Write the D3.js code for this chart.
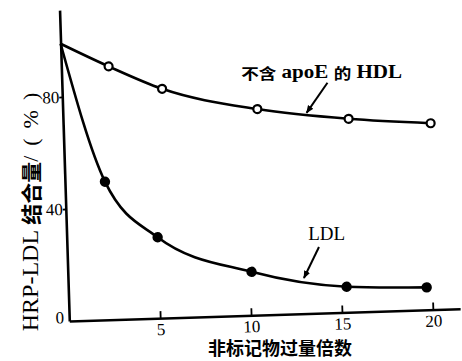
<!DOCTYPE html>
<html><head><meta charset="utf-8">
<script src="https://cdn.jsdelivr.net/npm/d3@7"></script>
<style>
html,body{margin:0;padding:0;background:#fff;}
svg{display:block;}
</style></head>
<body>
<svg id="chart" width="462" height="361"></svg>
<script>
// ---- data ----
const hdlX = [0, 2.6, 5.5, 10.7, 15.7, 20.2];
const hdlValues = [99, 90.4, 81.8, 73.5, 69.0, 66.5];
const ldlX = [0, 2.2, 5.0, 10.1, 15.3, 19.7];
const ldlValues = [99, 49.3, 28.9, 15.5, 9.1, 8.0];
const xTicks = [5, 10, 15, 20];
const yTicks = [0, 40, 80];
const xTitle = "非标记物过量倍数";
const hdlLabel = ["不含", " apoE ", "的", " HDL"];
const ldlLabel = "LDL";
// annotation anchors in data units: [labelX, labelY, arrowFromX, arrowFromY, arrowToX, arrowToY]
const hdlNote = [14.3, 86.1, 14.6, 82.1, 13.4, 71.6];
const ldlNote = [14.3, 28.5, 13.85, 23.6, 12.97, 12.7];

const svg = d3.select("#chart");
const ox = 69.3, oy = 321, tilt = -1.8;
const x = d3.scaleLinear().domain([0, 21.5]).range([0, 391]);
const y = d3.scaleLinear().domain([0, 111]).range([0, -311]);

const defs = svg.append("defs");
defs.append("marker").attr("id","ah").attr("viewBox","0 0 10 10")
  .attr("refX",9).attr("refY",5).attr("markerWidth",4).attr("markerHeight",4)
  .attr("orient","auto").attr("markerUnits","strokeWidth")
  .append("path").attr("d","M0,1 L10,5 L0,9 Z").attr("fill","#000");

const g = svg.append("g").attr("transform", `translate(${ox},${oy}) rotate(${tilt})`);

// x axis
const xa = g.append("g").call(d3.axisBottom(x).tickValues(xTicks).tickSizeInner(-7).tickSizeOuter(0).tickPadding(5));
xa.select(".domain").attr("stroke-width", 2.4);
xa.selectAll(".tick line").attr("stroke-width", 1.8);
xa.selectAll(".tick text").attr("font-family","'Liberation Serif', serif").attr("font-size",17).attr("fill","#000");

// y axis
const ya = g.append("g").call(d3.axisLeft(y).tickValues(yTicks).tickSizeInner(3).tickSizeOuter(0).tickPadding(0));
ya.select(".domain").attr("stroke-width", 2.6);
ya.selectAll(".tick line").attr("stroke-width", 1.8);
ya.selectAll(".tick text").attr("font-family","'Liberation Serif', serif").attr("font-size",17).attr("fill","#000")
  .attr("transform", d => d === 0 ? "translate(-2,-4)" : null);
ya.selectAll(".tick").filter(d => d === 0).select("line").remove();

// curves
const line = d3.line().x(d => x(d[0])).y(d => y(d[1])).curve(d3.curveMonotoneX);
const hdl = hdlX.map((v,i) => [v, hdlValues[i]]);
const ldl = ldlX.map((v,i) => [v, ldlValues[i]]);
g.append("path").attr("d", line(hdl)).attr("fill","none").attr("stroke","#000").attr("stroke-width",2.6);
g.append("path").attr("d", line(ldl)).attr("fill","none").attr("stroke","#000").attr("stroke-width",2.6);

g.selectAll(".hdlpt").data(hdl.slice(1)).join("circle").attr("class","hdlpt")
  .attr("cx", d => x(d[0])).attr("cy", d => y(d[1])).attr("r", 4)
  .attr("fill","#fff").attr("stroke","#000").attr("stroke-width",2.2);
g.selectAll(".ldlpt").data(ldl.slice(1)).join("circle").attr("class","ldlpt")
  .attr("cx", d => x(d[0])).attr("cy", d => y(d[1])).attr("r", 5.2)
  .attr("fill","#000");

// annotations
function arrow(n){
  g.append("line").attr("x1", x(n[2])).attr("y1", y(n[3])).attr("x2", x(n[4])).attr("y2", y(n[5]))
   .attr("stroke","#000").attr("stroke-width",2).attr("marker-end","url(#ah)");
}
arrow(hdlNote); arrow(ldlNote);

const cjk = "'Noto Sans CJK SC', sans-serif";
const serif = "'Liberation Serif', serif";
const ht = g.append("text").attr("x", x(hdlNote[0])).attr("y", y(hdlNote[1]))
  .attr("transform", `rotate(${-tilt},${x(hdlNote[0])},${y(hdlNote[1])})`)
  .attr("text-anchor","middle").attr("dominant-baseline","central")
  .attr("font-size",16).attr("font-weight","bold").attr("textLength",161).attr("lengthAdjust","spacingAndGlyphs");
hdlLabel.forEach((s,i) => ht.append("tspan").text(s).attr("font-family", i % 2 === 0 ? cjk : serif)
  .attr("font-size", i % 2 === 0 ? 15 : 18));

g.append("text").attr("x", x(ldlNote[0])).attr("y", y(ldlNote[1]))
  .attr("transform", `rotate(${-tilt},${x(ldlNote[0])},${y(ldlNote[1])})`)
  .attr("text-anchor","middle").attr("dominant-baseline","central")
  .attr("font-family", serif).attr("font-size",19).text(ldlLabel);

// axis titles
svg.append("text").attr("x",280).attr("y",347).attr("text-anchor","middle").attr("dominant-baseline","central")
  .attr("font-family",cjk).attr("font-weight","bold").attr("font-size",18).text(xTitle);

const yt = svg.append("text").attr("transform","translate(30,207) rotate(-90)")
  .attr("text-anchor","middle").attr("dominant-baseline","central");
yt.append("tspan").attr("font-family",serif).attr("font-size",24).text("HRP-LDL ");
yt.append("tspan").attr("font-family",cjk).attr("font-size",21).attr("font-weight","bold").text("结合量");
yt.append("tspan").attr("font-family",serif).attr("font-size",22).attr("letter-spacing",10).text("/(%)");
</script>
</body></html>
